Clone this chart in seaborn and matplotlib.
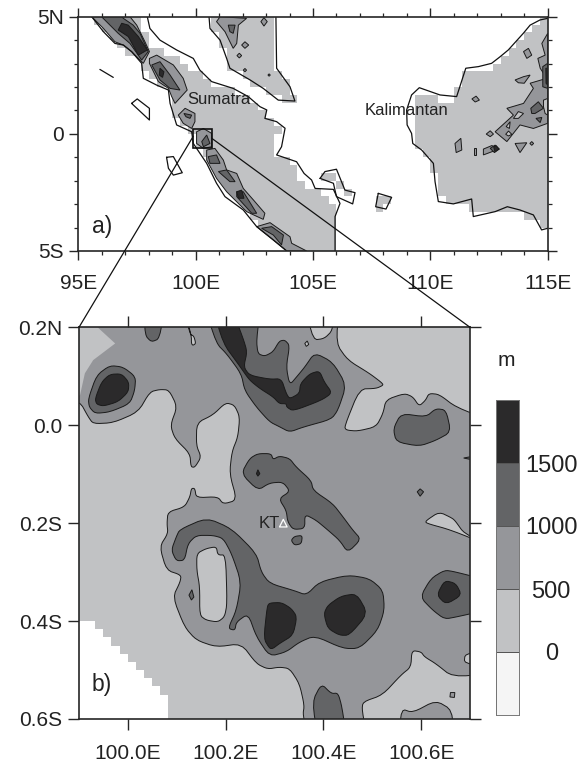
import matplotlib
matplotlib.use("Agg")
import matplotlib.pyplot as plt
import seaborn as sns
import numpy as np
from matplotlib.colors import ListedColormap
from matplotlib.patches import ConnectionPatch, Rectangle
from matplotlib.ticker import MultipleLocator

# ---- terrain shades
c_sea = "#ffffff"
c_bar0 = "#f5f5f5"
c_low = "#c1c2c4"
c_mid = "#95969a"
c_high = "#636466"
c_top = "#2b2a2b"

level_labels = ["0", "500", "1000", "1500"]

# ---- panel a: land cells on the 1/3 degree grid, one row per latitude band from 5N
land_runs = [
    [(2, 8), (17, 25), (59, 60)], [(3, 8), (17, 25), (58, 60)], [(4, 9), (18, 25), (57, 60)],
    [(5, 9), (18, 25), (56, 60)], [(6, 11), (19, 25), (55, 60)], [(8, 13), (19, 25), (54, 60)],
    [(8, 14), (19, 25), (53, 60)], [(9, 16), (21, 26), (49, 60)], [(10, 17), (22, 27), (49, 60)],
    [(12, 20), (24, 27), (48, 60)], [(12, 22), (26, 28), (43, 46), (48, 60)], [(12, 23), (43, 60)],
    [(12, 24), (43, 60)], [(13, 25), (43, 60)], [(14, 26), (43, 60)], [(15, 25), (43, 60)],
    [(15, 25), (43, 60)], [(16, 25), (44, 60)], [(17, 27), (45, 60)], [(18, 28), (45, 60)],
    [(18, 28), (31, 33), (46, 60)], [(19, 29), (33, 34), (46, 60)], [(20, 31), (34, 35), (46, 60)],
    [(21, 32), (38, 40), (47, 60)], [(22, 33), (38, 39), (50, 60)], [(22, 33), (57, 60)],
    [(23, 33), (59, 60)], [(25, 33)], [(26, 33)], [(27, 33)],
]

# coastlines, (lon, lat)
sumatra_west = [(95.57, 5), (96.07, 4.36), (96.56, 3.86), (96.92, 3.79), (97.27, 3.51), (97.7, 3.01),
                (97.77, 2.37), (98.34, 2.08), (98.84, 1.87), (98.91, 1.3), (99.19, 0.38), (99.83, 0.09),
                (99.9, -0.41), (100.47, -1.26), (100.89, -2.11), (101.25, -2.68), (102.03, -3.25),
                (102.6, -3.96), (103.31, -4.53), (103.88, -5)]
sumatra_east = [(97.94, 5), (98.05, 4.5), (98.48, 4.0), (99.19, 3.58), (99.9, 3.22), (100.18, 2.72),
                (100.68, 2.23), (101.6, 1.94), (102.24, 1.59), (102.74, 1.16), (103.03, 1.02),
                (102.95, 0.66), (103.45, 0.52), (103.81, 0.24), (103.66, -0.55), (103.45, -0.9),
                (104.3, -1.19), (104.62, -1.69), (104.94, -1.97), (105.09, -2.33), (105.87, -2.37),
                (106.15, -2.97), (105.94, -3.53), (105.94, -5)]
malay_coast = [(100.57, 5), (100.61, 4.5), (101.04, 4.0), (101.32, 3.22), (101.46, 2.8), (102.32, 2.3),
               (102.88, 1.94), (103.52, 1.44), (104.23, 1.4), (104.02, 2.01), (103.45, 2.8), (103.42, 5)]
kalimantan_coast = [(115, 4.93), (114.67, 4.86), (114.25, 4.64), (113.96, 4.29), (113.32, 3.58),
                    (112.97, 3.29), (112.61, 3.01), (112.05, 2.87), (111.51, 2.8), (111.12, 1.59),
                    (110.41, 1.66), (109.53, 1.97), (109.2, 1.66), (108.99, 1.02), (109.01, 0.38),
                    (109.2, 0.02), (109.25, -0.41), (109.63, -0.69), (110.13, -1.26), (110.2, -2.04),
                    (110.34, -2.89), (110.98, -2.99), (111.76, -2.78), (111.83, -3.53), (112.76, -3.32),
                    (113.28, -3.11), (113.82, -3.25), (114.39, -3.46), (114.74, -4.1), (115, -4.03)]
bangka_coast = [(105.3, -1.9), (105.51, -1.61), (106.0, -1.51), (106.36, -2.4), (106.79, -2.51),
                (106.69, -2.99), (106.0, -2.68), (105.87, -2.11), (105.3, -1.9)]
belitung_coast = [(107.78, -2.54), (108.35, -2.71), (108.11, -3.21), (107.67, -3.11), (107.78, -2.54)]
simeulue_line = [(95.92, 2.75), (96.49, 2.41)]
nias_coast = [(97.27, 1.3), (97.51, 1.49), (98.03, 1.09), (98.03, 0.59), (97.27, 1.3)]
siberut_coast = [(98.76, -1.0), (99.05, -0.97), (99.43, -1.66), (99.05, -1.76), (98.84, -1.47), (98.76, -1.0)]
coast_lines = [sumatra_west, sumatra_east, malay_coast, kalimantan_coast, bangka_coast,
               belitung_coast, simeulue_line, nias_coast, siberut_coast]

# panel a contours
a_mid = [
    [(95.57, 5), (96.07, 4.5), (96.56, 3.93), (96.92, 3.79), (97.27, 3.51), (97.77, 3.01), (98.03, 3.51),
     (97.84, 3.93), (97.49, 4.64), (97.2, 5)],
    [(98.03, 3.22), (98.34, 3.36), (99.05, 2.94), (99.47, 2.37), (99.64, 1.87), (99.12, 1.3), (98.98, 1.59),
     (98.84, 1.94), (98.41, 2.23), (98.03, 3.01)],
    [(99.26, 0.8), (99.55, 1.09), (99.97, 0.87), (99.97, 0.52), (99.83, 0.23), (99.47, 0.45)],
    [(100.04, 0.09), (100.33, 0.23), (100.68, 0.02), (100.68, -0.55), (100.33, -0.62), (100.04, -0.41)],
    [(100.47, -0.69), (100.82, -0.62), (101.18, -1.12), (101.32, -1.54), (101.75, -1.69), (102.03, -2.33),
     (102.46, -2.82), (102.95, -3.39), (102.88, -3.65), (102.17, -3.32), (101.32, -2.47), (100.89, -1.9),
     (100.47, -1.12)],
    [(102.6, -3.96), (103.17, -3.79), (104.02, -4.39), (104.09, -4.67), (104.73, -5), (103.88, -5), (103.31, -4.53)],
    [(101.04, 5), (102.17, 4.93), (101.82, 4.64), (101.75, 3.86), (101.6, 3.65), (101.46, 3.93), (101.25, 4.36), (100.89, 4.79)],
    [(102.91, 4.96), (103.05, 4.79), (102.91, 4.6), (102.78, 4.79)],
    [(101.96, 3.79), (102.1, 3.93), (102.26, 3.79), (102.1, 3.65)],
    [(101.76, 3.34), (101.86, 3.44), (101.96, 3.34), (101.86, 3.24)],
    [(102.03, 2.72), (102.1, 2.79), (102.17, 2.72), (102.1, 2.65)],
    [(103.08, 2.51), (103.13, 2.56), (103.18, 2.51), (103.13, 2.46)],
    [(115, 4.29), (114.75, 3.86), (114.89, 3.36), (114.58, 3.22), (114.68, 2.8), (114.96, 2.37), (114.25, 2.16),
     (114.39, 1.94), (113.97, 1.3), (113.26, 1.09), (113.54, 0.8), (112.76, 0.09), (113.26, -0.33), (113.82, 0.38),
     (114.39, 0.23), (115, 0.45)],
    [(113.97, 3.51), (114.18, 3.65), (114.32, 3.36), (114.11, 3.22)],
    [(111.77, 1.49), (111.95, 1.61), (112.09, 1.44), (111.91, 1.36)],
    [(112.38, -0.01), (112.55, 0.13), (112.69, -0.01), (112.55, -0.12)],
    [(113.61, -0.41), (114.11, -0.38), (113.82, -0.8)],
    [(111.05, -0.41), (111.3, -0.19), (111.34, -0.69), (111.1, -0.8)],
    [(111.84, -0.62), (111.95, -0.62), (111.95, -0.9), (111.84, -0.9)],
    [(112.26, -0.65), (112.62, -0.5), (112.93, -0.65), (112.55, -0.79), (112.26, -0.9)],
    [(113.61, 2.3), (113.97, 2.44), (114.25, 2.51), (114.0, 2.16), (113.75, 2.18)],
    [(114.24, -0.41), (114.32, -0.33), (114.4, -0.41), (114.32, -0.49)],
]
a_holes = [
    [(113.54, 0.66), (113.75, 0.95), (113.97, 0.87), (113.75, 0.66)],
    [(113.23, 0.31), (113.4, 0.52), (113.37, 0.23)],
    [(113.21, -0.02), (113.33, 0.12), (113.47, -0.02), (113.33, -0.09)],
    [(114.82, 1.44), (115, 1.51), (115, 0.8), (114.89, 0.87), (114.82, 1.16)],
]
a_high = [
    [(95.99, 5), (96.49, 4.5), (96.7, 4.29), (97.2, 3.86), (97.7, 3.15), (97.98, 3.51), (97.63, 4.29),
     (97.34, 4.64), (96.92, 4.93), (96.85, 5)],
    [(98.13, 2.94), (98.48, 3.08), (98.91, 2.51), (99.33, 1.87), (98.91, 1.94), (98.48, 2.3)],
    [(99.5, 0.87), (99.83, 0.8), (99.76, 0.66), (99.59, 0.73)],
    [(100.26, -0.33), (100.47, -0.05), (100.61, -0.41), (100.33, -0.55)],
    [(100.54, -0.97), (100.89, -0.9), (101.04, -1.26), (100.61, -1.26)],
    [(100.97, -1.61), (101.32, -1.54), (101.68, -2.04), (101.46, -2.04)],
    [(101.75, -2.47), (102.03, -2.47), (102.6, -3.39), (102.39, -3.39), (101.75, -2.68)],
    [(102.81, -4.03), (103.24, -3.96), (103.74, -4.32), (103.66, -4.74), (103.31, -4.32)],
    [(101.39, 4.64), (101.68, 4.64), (101.6, 4.29), (101.46, 4.36)],
    [(115, 3.01), (114.79, 2.87), (114.79, 2.01), (115, 1.94)],
    [(114.28, 1.09), (114.6, 1.37), (114.82, 1.09), (114.46, 0.87), (114.32, 0.87)],
    [(114.5, 0.66), (114.75, 0.7), (114.68, 0.48)],
    [(112.55, -0.62), (112.76, -0.48), (112.93, -0.65), (112.73, -0.8)],
]
a_top = [
    [(96.7, 4.43), (97.13, 4.15), (97.56, 3.36), (97.94, 3.58), (97.56, 4.15), (97.13, 4.64), (96.85, 4.72)],
    [(98.48, 2.8), (98.65, 2.65), (98.59, 2.41), (98.45, 2.51)],
    [(101.75, -2.47), (101.96, -2.4), (102.06, -2.75), (101.82, -2.75)],
    [(115, 2.8), (114.92, 2.8), (114.93, 2.16), (115, 2.08)],
    [(112.7, -0.56), (112.8, -0.5), (112.93, -0.65), (112.75, -0.76)],
]

# ---- panel b, lower-left sea cells: row tops and their east edge
sea_lat = [-0.4, -0.417, -0.433, -0.45, -0.467, -0.483, -0.5, -0.517, -0.533, -0.55, -0.6]
sea_lon = [99.932, 99.949, 99.966, 99.984, 100.0, 100.016, 100.033, 100.049, 100.066, 100.082, 100.082]

b_corner = [(99.9, 0.2), (99.938, 0.2), (99.974, 0.167), (99.929, 0.133), (99.912, 0.106), (99.902, 0.061), (99.9, 0.061)]

b_low = [
    [(99.9, 0.061), (99.902, 0.048), (99.919, 0.017), (99.929, 0.003), (99.97, 0.005), (100.021, 0.027), (100.045, 0.068),
     (100.065, 0.073), (100.084, 0.072), (100.101, 0.038), (100.087, 0.0), (100.096, -0.027), (100.127, -0.058),
     (100.129, -0.085), (100.137, -0.086), (100.15, -0.065), (100.14, -0.041), (100.141, 0.005), (100.174, 0.021),
     (100.2, 0.046), (100.218, 0.041), (100.229, 0.017), (100.225, -0.024), (100.213, -0.054), (100.208, -0.099),
     (100.223, -0.153), (100.195, -0.161), (100.184, -0.146), (100.14, -0.148), (100.137, -0.129), (100.13, -0.129),
     (100.127, -0.146), (100.116, -0.167), (100.082, -0.177), (100.08, -0.201), (100.082, -0.221), (100.065, -0.248),
     (100.079, -0.296), (100.109, -0.306), (100.107, -0.32), (100.092, -0.351), (100.116, -0.412), (100.14, -0.439),
     (100.181, -0.453), (100.232, -0.446), (100.263, -0.487), (100.286, -0.498), (100.31, -0.494), (100.331, -0.497),
     (100.351, -0.528), (100.361, -0.572), (100.358, -0.592), (100.372, -0.6), (99.9, -0.6)],
    [(100.492, -0.6), (100.479, -0.582), (100.481, -0.565), (100.521, -0.551), (100.559, -0.51), (100.579, -0.494),
     (100.581, -0.46), (100.6, -0.463), (100.607, -0.473), (100.63, -0.487), (100.664, -0.514), (100.698, -0.507),
     (100.7, -0.505), (100.7, -0.6)],
    [(100.698, -0.461), (100.69, -0.466), (100.688, -0.487), (100.698, -0.491), (100.7, -0.491), (100.7, -0.461)],
    [(100.61, -0.195), (100.637, -0.177), (100.664, -0.19), (100.671, -0.197), (100.688, -0.221), (100.698, -0.25),
     (100.661, -0.214), (100.61, -0.2)],
    [(100.433, 0.2), (100.426, 0.167), (100.45, 0.133), (100.494, 0.106), (100.518, 0.088), (100.523, 0.082),
     (100.508, 0.075), (100.474, 0.074), (100.443, -0.003), (100.447, -0.01), (100.47, -0.012), (100.508, -0.003),
     (100.522, 0.024), (100.528, 0.052), (100.566, 0.065), (100.583, 0.058), (100.596, 0.039), (100.609, 0.051),
     (100.616, 0.065), (100.637, 0.063), (100.671, 0.037), (100.698, 0.007), (100.7, 0.005), (100.7, 0.2)],
    [(100.362, 0.2), (100.379, 0.174), (100.402, 0.177), (100.419, 0.194), (100.425, 0.2)],
    [(100.362, 0.167), (100.367, 0.172), (100.37, 0.165), (100.365, 0.161)],
    [(100.112, 0.2), (100.127, 0.186), (100.135, 0.182), (100.139, 0.167), (100.133, 0.163), (100.13, 0.167), (100.13, 0.182)],
    [(100.141, -0.262), (100.16, -0.252), (100.181, -0.248), (100.184, -0.265), (100.2, -0.265), (100.203, -0.364),
     (100.198, -0.391), (100.184, -0.402), (100.16, -0.398), (100.147, -0.388), (100.147, -0.33), (100.141, -0.296)],
]
b_mid = [
    [(100.559, -0.579), (100.583, -0.587), (100.63, -0.562), (100.664, -0.582), (100.666, -0.6), (100.555, -0.6)],
    [(100.66, -0.546), (100.669, -0.546), (100.668, -0.556), (100.659, -0.555)],
]
b_high = [
    [(99.919, 0.054), (99.936, 0.102), (99.963, 0.122), (99.99, 0.119), (100.016, 0.099), (100.014, 0.071),
     (100.004, 0.044), (99.963, 0.027), (99.933, 0.024), (99.921, 0.037)],
    [(100.033, 0.2), (100.035, 0.184), (100.048, 0.17), (100.065, 0.177), (100.076, 0.2)],
    [(100.155, 0.2), (100.181, 0.167), (100.202, 0.146), (100.232, 0.105), (100.239, 0.071), (100.263, 0.037),
     (100.29, 0.007), (100.31, -0.003), (100.331, -0.014), (100.358, -0.004), (100.416, 0.012), (100.43, 0.031),
     (100.447, 0.082), (100.419, 0.129), (100.382, 0.148), (100.362, 0.119), (100.348, 0.102), (100.331, 0.082),
     (100.324, 0.119), (100.331, 0.163), (100.321, 0.174), (100.31, 0.172), (100.297, 0.15), (100.28, 0.141),
     (100.266, 0.146), (100.263, 0.174), (100.273, 0.2)],
    [(100.543, -0.007), (100.559, 0.024), (100.61, 0.017), (100.63, 0.034), (100.651, 0.031), (100.661, -0.014),
     (100.63, -0.031), (100.596, -0.043), (100.549, -0.034)],
    [(100.232, -0.099), (100.249, -0.068), (100.266, -0.058), (100.293, -0.058), (100.297, -0.07), (100.31, -0.063),
     (100.331, -0.068), (100.344, -0.085), (100.375, -0.113), (100.379, -0.133), (100.419, -0.16), (100.44, -0.187),
     (100.46, -0.214), (100.477, -0.233), (100.45, -0.26), (100.433, -0.235), (100.409, -0.214), (100.385, -0.194),
     (100.362, -0.182), (100.362, -0.211), (100.338, -0.213), (100.327, -0.197), (100.324, -0.174), (100.309, -0.15),
     (100.332, -0.135), (100.317, -0.116), (100.29, -0.118), (100.266, -0.133)],
    [(100.592, -0.136), (100.598, -0.13), (100.605, -0.136), (100.598, -0.145)],
    [(100.7, -0.055), (100.687, -0.067), (100.7, -0.08)],
    [(100.334, -0.235), (100.341, -0.227), (100.357, -0.225), (100.355, -0.242), (100.341, -0.245)],
    [(100.089, -0.255), (100.099, -0.228), (100.106, -0.213), (100.161, -0.189), (100.212, -0.211), (100.263, -0.262),
     (100.273, -0.3), (100.29, -0.323), (100.341, -0.338), (100.365, -0.347), (100.392, -0.32), (100.45, -0.306),
     (100.494, -0.313), (100.522, -0.337), (100.525, -0.378), (100.511, -0.419), (100.474, -0.456), (100.44, -0.456),
     (100.382, -0.43), (100.351, -0.443), (100.324, -0.463), (100.29, -0.472), (100.263, -0.432), (100.246, -0.385),
     (100.222, -0.402), (100.219, -0.419), (100.205, -0.415), (100.222, -0.378), (100.232, -0.32), (100.212, -0.262),
     (100.195, -0.231), (100.174, -0.225), (100.14, -0.225), (100.123, -0.242), (100.116, -0.276), (100.099, -0.277)],
    [(100.598, -0.351), (100.62, -0.313), (100.648, -0.296), (100.668, -0.299), (100.7, -0.32), (100.7, -0.374),
     (100.675, -0.391), (100.648, -0.396), (100.624, -0.378)],
    [(100.377, -0.565), (100.396, -0.528), (100.416, -0.548), (100.43, -0.547), (100.438, -0.575), (100.449, -0.6), (100.391, -0.6)],
    [(100.125, -0.347), (100.131, -0.336), (100.135, -0.351), (100.13, -0.357)],
]
b_top = [
    [(99.933, 0.054), (99.946, 0.088), (99.963, 0.104), (99.987, 0.105), (100.002, 0.088), (100.001, 0.068),
     (99.98, 0.048), (99.95, 0.039), (99.936, 0.043)],
    [(100.171, 0.2), (100.208, 0.2), (100.236, 0.177), (100.244, 0.15), (100.237, 0.119), (100.249, 0.102), (100.29, 0.094),
     (100.314, 0.095), (100.324, 0.065), (100.331, 0.054), (100.351, 0.065), (100.353, 0.085), (100.372, 0.105),
     (100.392, 0.111), (100.402, 0.088), (100.418, 0.066), (100.396, 0.051), (100.338, 0.029), (100.325, 0.037),
     (100.324, 0.044), (100.31, 0.044), (100.297, 0.058), (100.27, 0.075), (100.249, 0.092), (100.232, 0.116),
     (100.225, 0.126), (100.195, 0.167)],
    [(100.285, -0.37), (100.29, -0.363), (100.314, -0.362), (100.334, -0.374), (100.346, -0.391), (100.338, -0.429),
     (100.31, -0.446), (100.297, -0.456), (100.29, -0.456), (100.278, -0.436)],
    [(100.401, -0.385), (100.409, -0.368), (100.436, -0.349), (100.468, -0.344), (100.491, -0.385), (100.453, -0.429),
     (100.433, -0.429), (100.409, -0.415)],
    [(100.632, -0.347), (100.648, -0.317), (100.671, -0.323), (100.683, -0.347), (100.651, -0.366)],
    [(100.263, -0.099), (100.266, -0.091), (100.27, -0.099), (100.266, -0.104)],
]

kt_lon, kt_lat = 100.318, -0.2


def fill_polys(ax, polys, color):
    for p in polys:
        xs, ys = zip(*p)
        ax.fill(xs, ys, facecolor=color, edgecolor="#1a1a1a", linewidth=0.7, zorder=2)


def rounded(p):
    # corner cutting for the panel b outlines; points on the frame are pushed out first so
    # the rounding does not pull the shape off the frame
    pts = np.array(p, dtype=float)
    pts[pts[:, 1] >= 0.2, 1] = 0.25
    pts[pts[:, 1] <= -0.6, 1] = -0.65
    pts[pts[:, 0] >= 100.697, 0] = 100.75
    pts[pts[:, 0] <= 99.9, 0] = 99.85
    if len(pts) <= 4:
        return pts
    for _ in range(2):
        nxt = np.roll(pts, -1, axis=0)
        pts = np.column_stack([0.8 * pts + 0.2 * nxt, 0.2 * pts + 0.8 * nxt]).reshape(-1, 2)
    return pts


def style_axis(ax, maj_len):
    ax.tick_params(which="major", direction="out", length=maj_len, width=1.0, top=True, right=True,
                   labelsize=15, labelcolor="#222222")
    ax.tick_params(axis="x", which="major", pad=10)
    ax.tick_params(axis="y", which="major", pad=4)
    for s in ax.spines.values():
        s.set_linewidth(1.2)
        s.set_zorder(5)


sns.set_theme(style="ticks")
plt.rcParams["font.family"] = ["Liberation Sans", "DejaVu Sans"]

W, H = 579.0, 765.0
fig = plt.figure(figsize=(5.79, 7.65), dpi=100)

# panel a
ax_a = fig.add_axes([78.3 / W, 1 - 251 / H, 469.4 / W, 234.3 / H])
land = np.zeros((30, 60))
for row, runs in enumerate(land_runs):
    for start, end in runs:
        land[row, start:end] = 1
ax_a.pcolormesh(np.linspace(95, 115, 61), np.linspace(5, -5, 31), land,
                cmap=ListedColormap([c_sea, c_low]), vmin=0, vmax=1, zorder=1)
fill_polys(ax_a, a_mid, c_mid)
fill_polys(ax_a, a_holes, c_low)
fill_polys(ax_a, a_high, c_high)
fill_polys(ax_a, a_top, c_top)
for line in coast_lines:
    xs, ys = zip(*line)
    sns.lineplot(x=list(xs), y=list(ys), sort=False, estimator=None, color="#111111",
                 linewidth=0.9, ax=ax_a, zorder=3)
ax_a.add_patch(Rectangle((99.9, -0.6), 0.8, 0.8, fill=False, edgecolor="#111111", linewidth=1.2, zorder=4))
ax_a.set_xlim(95, 115)
ax_a.set_ylim(-5, 5)
ax_a.set_xticks([95, 100, 105, 110, 115], ["95E", "100E", "105E", "110E", "115E"])
ax_a.set_yticks([-5, 0, 5], ["5S", "0", "5N"])
ax_a.xaxis.set_minor_locator(MultipleLocator(1))
ax_a.yaxis.set_minor_locator(MultipleLocator(1))
style_axis(ax_a, 6.5)
ax_a.tick_params(which="minor", direction="out", length=3, width=0.9, top=True, right=True)
ax_a.text(101.0, 1.45, "Sumatra", fontsize=12, color="#222222", ha="center", va="center", zorder=4)
ax_a.text(109.0, 0.98, "Kalimantan", fontsize=12, color="#222222", ha="center", va="center", zorder=4)
ax_a.text(95.6, -3.95, "a)", fontsize=16.5, color="#222222", ha="left", va="center", zorder=4)

# panel b
ax_b = fig.add_axes([79 / W, 1 - 719 / H, 391 / W, 391.7 / H])
ax_b.set_facecolor(c_mid)
xs, ys = zip(*b_corner)
ax_b.fill(xs, ys, facecolor=c_low, edgecolor="none", zorder=1)
fill_polys(ax_b, [rounded(p) for p in b_low], c_low)
fill_polys(ax_b, [rounded(p) for p in b_mid], c_mid)
fill_polys(ax_b, [rounded(p) for p in b_high], c_high)
fill_polys(ax_b, [rounded(p) for p in b_top], c_top)
ax_b.fill_betweenx(sea_lat, 99.9, sea_lon, step="post", facecolor=c_sea, edgecolor="none", zorder=3)
sns.scatterplot(x=[kt_lon], y=[kt_lat], marker="^", s=30, fc="none", ec="white",
                linewidth=0.9, ax=ax_b, zorder=4)
ax_b.set_xlim(99.9, 100.7)
ax_b.set_ylim(-0.6, 0.2)
ax_b.set_xticks([100.0, 100.2, 100.4, 100.6], ["100.0E", "100.2E", "100.4E", "100.6E"])
ax_b.set_yticks([0.2, 0.0, -0.2, -0.4, -0.6], ["0.2N", "0.0", "0.2S", "0.4S", "0.6S"])
style_axis(ax_b, 8)
ax_b.text(100.29, -0.2, "KT", fontsize=12, color="#222222", ha="center", va="center", zorder=4)
ax_b.text(99.925, -0.53, "b)", fontsize=16.5, color="#222222", ha="left", va="center", zorder=4)

# zoom lines from the box in a to the corners of b
for lon_end, lat_start, lon_start in [(99.9, -0.1, 99.9), (100.7, -0.2, 100.7)]:
    fig.add_artist(ConnectionPatch((lon_start, lat_start), (lon_end, 0.2), coordsA=ax_a.transData,
                                   coordsB=ax_b.transData, color="#111111", linewidth=0.9))

# colour bar
ax_c = fig.add_axes([496 / W, 1 - 715 / H, 23.3 / W, 315 / H])
bar_cells = np.array([[4], [3], [2], [1], [0]])
sns.heatmap(bar_cells, cmap=ListedColormap([c_bar0, c_low, c_mid, c_high, c_top]), cbar=False,
            linewidths=0.6, linecolor="#555555", xticklabels=False, ax=ax_c)
ax_c.set_yticks([4, 3, 2, 1], level_labels, rotation=0)
ax_c.yaxis.tick_right()
ax_c.tick_params(axis="y", length=0, pad=23, labelsize=17, labelcolor="#222222")
for lab in ax_c.get_yticklabels():
    lab.set_ha("center")
for s in ax_c.spines.values():
    s.set_visible(True)
    s.set_color("#777777")
    s.set_linewidth(0.7)
fig.text(506 / W, 1 - 360 / H, "m", fontsize=15, color="#222222", ha="center", va="center")

fig.savefig("out.png", dpi=100)
